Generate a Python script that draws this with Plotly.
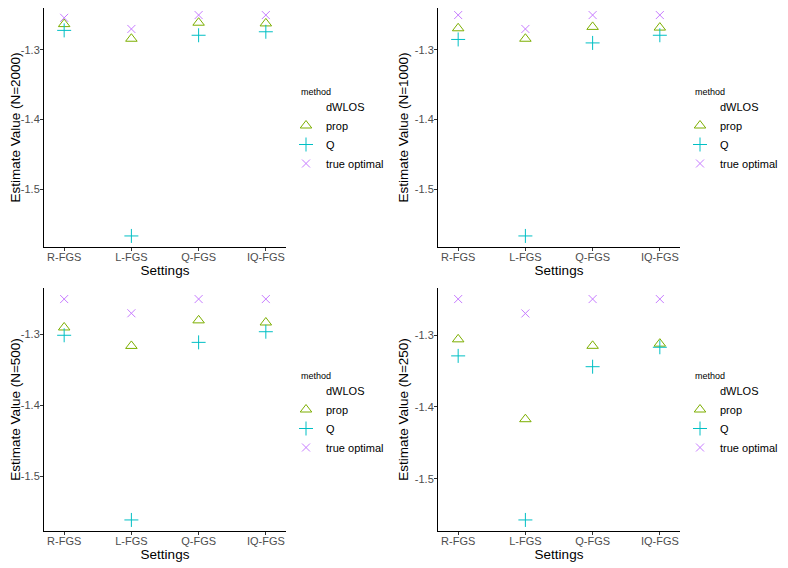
import plotly.graph_objects as go

# settings on the x axis and one panel per sample size
settings = ["R-FGS", "L-FGS", "Q-FGS", "IQ-FGS"]
sample_sizes = [2000, 1000, 500, 250]

# estimated values (dWLOS has no values shown)
dwlos = {
    2000: [None, None, None, None],
    1000: [None, None, None, None],
    500: [None, None, None, None],
    250: [None, None, None, None],
}
prop = {
    2000: [-1.263, -1.284, -1.261, -1.262],
    1000: [-1.269, -1.284, -1.267, -1.268],
    500: [-1.290, -1.316, -1.280, -1.283],
    250: [-1.306, -1.417, -1.315, -1.312],
}
q_method = {
    2000: [-1.272, -1.567, -1.279, -1.274],
    1000: [-1.285, -1.567, -1.290, -1.279],
    500: [-1.301, -1.561, -1.311, -1.296],
    250: [-1.329, -1.557, -1.344, -1.317],
}
true_optimal = {
    2000: [-1.254, -1.270, -1.250, -1.250],
    1000: [-1.250, -1.270, -1.250, -1.250],
    500: [-1.250, -1.270, -1.250, -1.250],
    250: [-1.250, -1.270, -1.250, -1.250],
}

methods = [
    ("dWLOS", dwlos, "circle", "rgba(0,0,0,0)", 9),
    ("prop", prop, "triangle-up-open", "#7CAE00", 10),
    ("Q", q_method, "cross-thin-open", "#00BFC4", 10),
    ("true optimal", true_optimal, "x-thin-open", "#C77CFF", 8),
]

# the page has an 8px body margin, so the figure is drawn 8px in from the corner
OFF = 8
W, H = 788 - OFF, 568 - OFF


def px(x):
    return (x - OFF) / W


def py(y):
    return 1 - (y - OFF) / H


# plot area of each panel in window pixels: (left, right, top, bottom)
boxes = [(44, 286, 4, 247), (438, 680, 4, 247), (44, 286, 288, 531), (438, 680, 288, 531)]

fig = go.Figure()
font = "Liberation Sans, Arial, sans-serif"

for i, n in enumerate(sample_sizes):
    k = "" if i == 0 else str(i + 1)
    leg = "legend" + k
    for name, data, sym, col, size in methods:
        fig.add_trace(go.Scatter(
            x=settings, y=data[n], name=name, mode="markers",
            xaxis="x" + k, yaxis="y" + k, legend=leg,
            marker=dict(symbol=sym, size=size, color=col, line=dict(width=1, color=col)),
        ))

    vals = [v for d in (prop, q_method, true_optimal) for v in d[n] if v is not None]
    lo, hi = min(vals), max(vals)
    pad = (hi - lo) * 0.05
    l, r, t, b = boxes[i]
    ymin, ymax = lo - pad, hi + pad
    # the top panels start above the visible page area: trim the range to match
    top = max(t, OFF)
    ymax = ymax - (top - t) * (ymax - ymin) / (b - t)
    ticks = [-1.5, -1.4, -1.3]
    axis_style = dict(showline=True, linecolor="black", linewidth=1, showgrid=False, zeroline=False,
                      ticks="outside", ticklen=3, tickcolor="#333333", automargin=False,
                      tickfont=dict(size=11, color="#4D4D4D", family=font))
    fig.update_layout({
        "xaxis" + k: dict(domain=[px(l), px(r)], anchor="y" + k, type="category",
                          range=[-0.3, 3.3], categoryorder="array", categoryarray=settings,
                          ticklabelstandoff=-3,
                          title=dict(text="Settings", font=dict(size=13.5, color="black", family=font), standoff=0),
                          **axis_style),
        "yaxis" + k: dict(domain=[py(b), py(top)], anchor="x" + k,
                          range=[ymin, ymax], tickvals=ticks,
                          ticktext=["%.1f" % v for v in ticks], ticklabelstandoff=-2,
                          title=dict(text=f"Estimate Value (N={n})", font=dict(size=13.5, color="black", family=font), standoff=3),
                          **axis_style),
        leg: dict(x=px(r), y=py(t + 88), xanchor="left", yanchor="top",
                  bgcolor="rgba(0,0,0,0)", font=dict(size=11, color="black", family=font),
                  tracegroupgap=0, itemwidth=30),
    })
    fig.add_annotation(text="method", xref="paper", yref="paper", x=px(r + 13), y=py(t + 88),
                       xanchor="left", yanchor="middle", showarrow=False,
                       font=dict(size=9, color="black", family=font))

fig.update_layout(width=W, height=H, margin=dict(l=0, r=0, t=0, b=0),
                  plot_bgcolor="white", paper_bgcolor="white", showlegend=True)

fig.write_html("out.html")
